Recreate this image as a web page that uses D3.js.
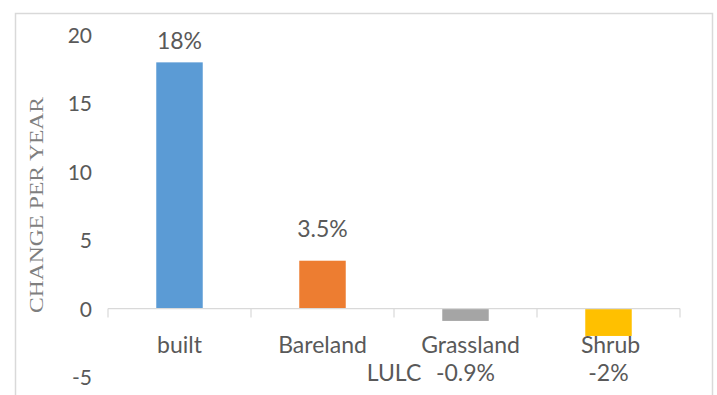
<!DOCTYPE html>
<html>
<head>
<meta charset="utf-8">
<script src="https://cdn.jsdelivr.net/npm/d3@7/dist/d3.min.js"></script>
<style>
  html, body { margin: 0; padding: 0; background: #fff; }
  svg { display: block; }
</style>
</head>
<body>
<svg id="chart" width="717" height="395"></svg>
<script>
// Annual change rate of each land-use / land-cover class
const categories = ["built", "Bareland", "Grassland", "Shrub"];
const values = [18, 3.5, -0.9, -2];
const valueLabels = ["18%", "3.5%", "-0.9%", "-2%"];
const colors = ["#5B9BD5", "#ED7D31", "#A5A5A5", "#FFC000"];
const yTicks = [-5, 0, 5, 10, 15, 20];

const svg = d3.select("#chart");
const W = 717, H = 395;
const textColor = "#595959";
const font = "Lato, 'Open Sans', sans-serif";

// Chart frame
svg.append("rect")
  .attr("x", 15.5).attr("y", 13.5)
  .attr("width", 697).attr("height", H)
  .attr("fill", "#fff")
  .attr("stroke", "#d9d9d9").attr("stroke-width", 1.5);

const x = d3.scaleBand()
  .domain(categories)
  .range([108, 680])
  .paddingInner(0.675)
  .paddingOuter(0.3375);

const y = d3.scaleLinear()
  .domain([-5, 20])
  .range([377, 35]);

// Y axis labels (no axis line)
const yAxis = d3.axisLeft(y).tickValues(yTicks).tickSize(0).tickPadding(0)
  .tickFormat(d => String(d));
const yG = svg.append("g").attr("transform", "translate(92,0)").call(yAxis);
yG.select(".domain").remove();
yG.selectAll("text")
  .attr("fill", textColor)
  .attr("font-family", font)
  .attr("font-size", 21)
  .attr("dy", "0.36em");

// Bars
svg.append("g").selectAll("rect")
  .data(categories)
  .join("rect")
  .attr("x", d => x(d))
  .attr("width", x.bandwidth())
  .attr("y", (d, i) => y(Math.max(0, values[i])))
  .attr("height", (d, i) => Math.abs(y(values[i]) - y(0)))
  .attr("fill", (d, i) => colors[i]);

// Category axis at zero, ticks between categories
const x0 = y(0);
const axisG = svg.append("g");
axisG.append("line")
  .attr("x1", 108).attr("x2", 680)
  .attr("y1", x0).attr("y2", x0)
  .attr("stroke", "#d9d9d9").attr("stroke-width", 1.2);
const bounds = d3.range(categories.length + 1).map(i => 108 + i * (572 / categories.length));
axisG.selectAll("line.tick")
  .data(bounds)
  .join("line")
  .attr("class", "tick")
  .attr("x1", d => d).attr("x2", d => d)
  .attr("y1", x0).attr("y2", x0 + 9)
  .attr("stroke", "#d9d9d9").attr("stroke-width", 1.2);

// Category labels
const catShift = { Grassland: 5, Shrub: 2 };
svg.append("g").selectAll("text")
  .data(categories)
  .join("text")
  .attr("x", d => x(d) + x.bandwidth() / 2 + (catShift[d] || 0))
  .attr("y", 353)
  .attr("text-anchor", "middle")
  .attr("fill", textColor)
  .attr("font-family", font)
  .attr("font-size", 23)
  .text(d => d);

// Value labels: above positive bars, below the category for negative ones
const aboveGap = [13, 24];
svg.append("g").selectAll("text")
  .data(categories)
  .join("text")
  .attr("x", d => x(d) + x.bandwidth() / 2)
  .attr("y", (d, i) => values[i] >= 0 ? y(values[i]) - aboveGap[i] : 381)
  .attr("text-anchor", "middle")
  .attr("fill", textColor)
  .attr("font-family", font)
  .attr("font-size", 23)
  .text((d, i) => valueLabels[i]);

// X axis title
svg.append("text")
  .attr("x", 394).attr("y", 381)
  .attr("text-anchor", "middle")
  .attr("fill", textColor)
  .attr("font-family", font)
  .attr("font-size", 23)
  .text("LULC");

// Y axis title
svg.append("text")
  .attr("transform", "translate(43,205) rotate(-90)")
  .attr("text-anchor", "middle")
  .attr("fill", "#7f7f7f")
  .attr("font-family", "'Liberation Serif', 'DejaVu Serif', serif")
  .attr("font-size", 19)
  .attr("textLength", 216)
  .attr("lengthAdjust", "spacingAndGlyphs")
  .text("CHANGE PER YEAR");
</script>
</body>
</html>
